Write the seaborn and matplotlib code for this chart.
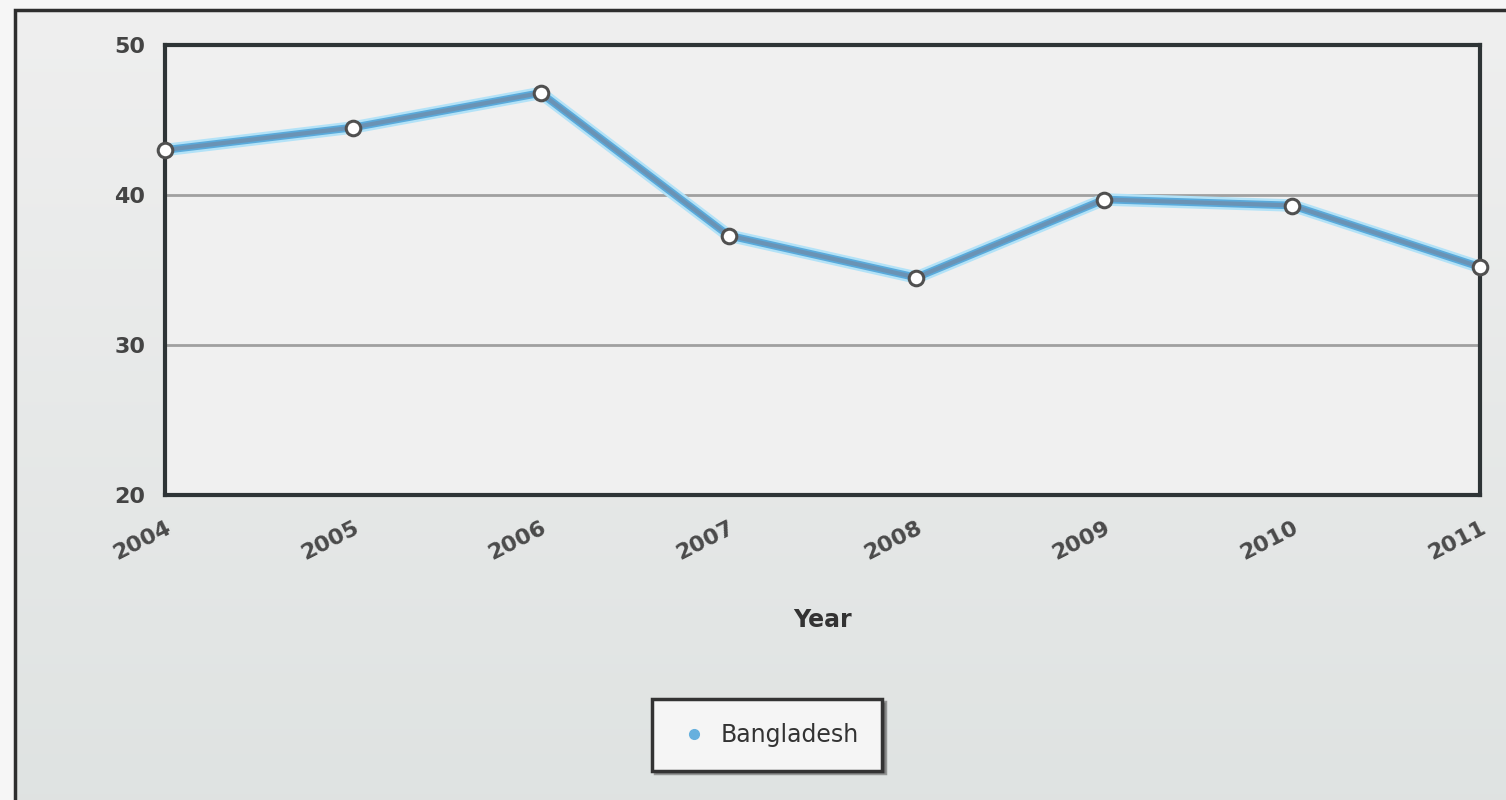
import numpy as np
import pandas as pd
import seaborn as sns
import matplotlib.pyplot as plt
import matplotlib.patheffects as pe
from matplotlib.lines import Line2D
from matplotlib.patches import Rectangle

# values
years = [2004, 2005, 2006, 2007, 2008, 2009, 2010, 2011]
bangladesh = [43.0, 44.5, 46.8, 37.3, 34.5, 39.7, 39.3, 35.2]
y_ticks = [20, 30, 40, 50]
series_name = 'Bangladesh'

df = pd.DataFrame({'Year': years, 'Value': bangladesh})

sns.set_style('white')
plt.rcParams['font.family'] = ['DejaVu Sans']

fig = plt.figure(figsize=(15.06, 8), dpi=100)
fig.patch.set_facecolor('#f6f6f6')

# gradient background inside the outer frame
bg = fig.add_axes([15 / 1506, 0, 1 - 15 / 1506, 1 - 10 / 800], zorder=-10)
grad = np.linspace(0, 1, 256).reshape(-1, 1)
top = np.array([0.937, 0.937, 0.937])
bot = np.array([0.875, 0.890, 0.886])
img = top + (bot - top) * grad[..., None]
bg.imshow(img, aspect='auto', extent=[0, 1, 0, 1])
bg.set_axis_off()
fig.patches.append(Rectangle((15 / 1506, -0.01), 1.0, 1 - 10 / 800 + 0.01,
                             transform=fig.transFigure, fill=False,
                             edgecolor='#2e2e2e', linewidth=2.5, zorder=5))

ax = fig.add_axes([165 / 1506, 1 - 495 / 800, (1480 - 165) / 1506, 450 / 800])
ax.set_facecolor('#f0f0f0')

line = sns.lineplot(data=df, x='Year', y='Value', ax=ax, color='#6a93b5',
                    linewidth=3, legend=False, zorder=3, clip_on=False)
line.lines[0].set_path_effects([pe.Stroke(linewidth=9, foreground='#b3e2f7'),
                                pe.Stroke(linewidth=5.5, foreground='#5aaadb'),
                                pe.Normal()])
sns.scatterplot(data=df, x='Year', y='Value', ax=ax, s=110, color='white',
                edgecolor='#505050', linewidth=2.2, zorder=4, clip_on=False,
                legend=False)

ax.set_xlim(years[0], years[-1])
ax.set_ylim(20, 50)
ax.set_yticks(y_ticks)
ax.set_yticklabels([str(t) for t in y_ticks], fontsize=16, fontweight='bold', color='#444444')
ax.set_xticks(years)
ax.set_xticklabels([str(y) for y in years], fontsize=16, fontweight='bold', color='#4a4a4a',
                   rotation=27, ha='right', va='top', rotation_mode='anchor')
ax.set_xticks([y + 0.5 for y in years[:-1]], minor=True)
ax.tick_params(axis='x', which='major', length=0, pad=16)
ax.tick_params(axis='x', which='minor', length=6, width=1.2, color='#b0b0b0', direction='out')
ax.tick_params(axis='y', length=0, pad=14)

for v in [30, 40]:
    ax.axhline(v, color='#a0a0a0', linewidth=2, zorder=1)

for s in ax.spines.values():
    s.set_color('#2e3436')
    s.set_linewidth(3)

ax.set_xlabel('Year', fontsize=17, fontweight='bold', color='#333333', labelpad=32)
ax.set_ylabel('')

handle = Line2D([], [], marker='o', linestyle='', color='#66b0de', markersize=7)
leg = fig.legend([handle], [series_name], loc='center', bbox_to_anchor=(767 / 1506, 1 - 735 / 800),
                 fontsize=17, frameon=True, fancybox=False, shadow=True,
                 borderpad=1.0, handletextpad=0.3, handlelength=1.6, borderaxespad=0)
leg.get_frame().set_edgecolor('#333333')
leg.get_frame().set_linewidth(2.5)
leg.get_frame().set_facecolor('#f5f5f5')
for t in leg.get_texts():
    t.set_color('#333333')

fig.savefig('out.png', dpi=100)
